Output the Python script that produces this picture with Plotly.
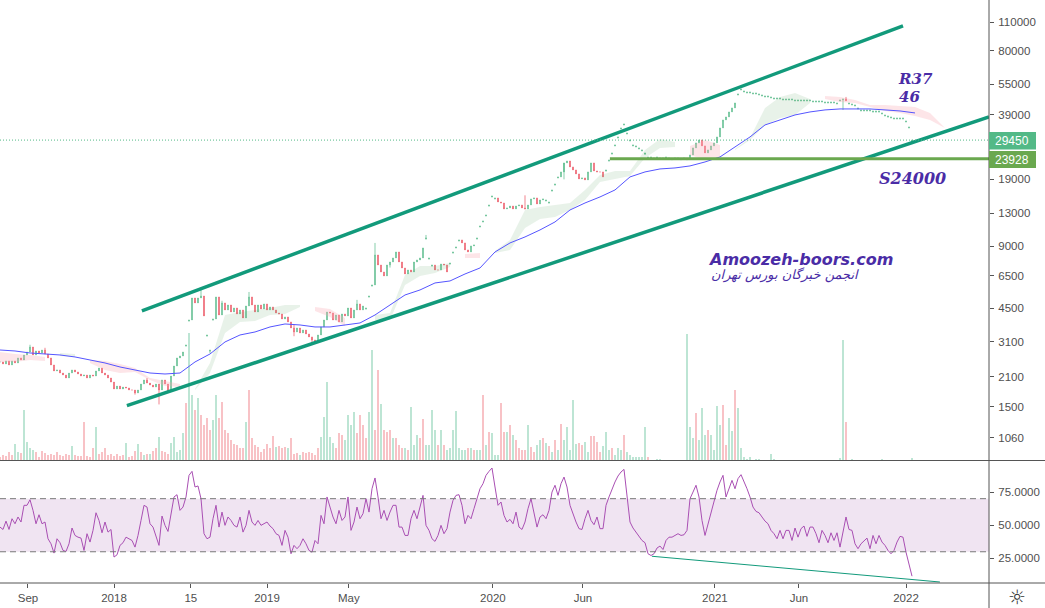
import plotly.graph_objects as go

# ---------- price data, one bar every 3 px of chart width ----------
close = [2476,2421,2504,2394,2504,2448,2589,2532,2677,2768,2927,2677,2799,2737,2830,2707,2589,2394,2239,2264,
2189,2141,2071,2189,2264,2214,2165,2117,2141,2071,2141,2117,2239,2315,2189,2141,2071,1979,1831,1893,
1831,1872,1852,1811,1811,1752,1811,1936,2025,1957,1914,1872,1936,1811,2025,1936,1791,2117,2367,2589,
2647,2768,2993,3956,5057,4783,5057,5171,4137,3346,2830,4000,5114,4183,4783,4423,4677,4325,4523,4230,
4423,4045,4625,5114,4677,4325,4677,4473,4730,4423,4574,4423,4277,4230,4000,4091,3869,3618,3460,3618,
3422,3538,3384,3273,3165,3095,3346,3659,3956,4325,4277,3956,4183,3869,4230,4137,4523,4045,4423,4730,
4423,4625,4523,5171,5847,8172,7308,6759,6465,7308,7557,7903,8450,7557,7068,6610,6912,6759,7557,7729,
7903,8837,9880,7903,7308,6912,6912,7390,7308,6759,7473,8450,8936,9662,9344,8642,8450,9036,9138,9880,
11296,11945,12773,14275,15790,15441,14761,14597,13652,13805,14117,13652,14117,14275,13805,13652,14275,15270,15441,14435,
15100,15270,15100,14761,16880,18049,19521,20641,22820,23330,21820,21100,20186,19090,19305,18880,20641,22820,20873,20641,
20641,19521,21100,23590,25510,27910,30500,33720,35260,31890,29500,27910,27600,26990,26390,25510,24400,24400,24130,24400,
24130,24130,24400,24130,23928,24130,24130,23928,24130,23928,24950,26990,28540,29500,27600,25510,26390,27600,28540,30500,
33720,36870,38130,40310,42160,44570,49290,52130,50970,50400,50400,49840,49840,49290,48740,48200,48200,47660,47130,47130,
47130,46610,46610,46610,46610,46100,46100,46100,46100,46100,46100,45580,45580,45580,45580,45070,45070,45070,45070,44570,
46100,46610,45580,44570,44080,43590,42160,41230,41230,41230,41230,40760,40760,40760,39870,38990,38550,38130,37700,37700,
37700,37700,36460,34100,29450]

high_spikes = {53: 1936, 67: 5592, 83: 5407, 125: 9344, 142: 10216, 282: 47660, 188: 19000, 15: 2900, 10: 3000,
               49: 2070, 74: 4900, 98: 3750, 119: 4950, 175: 15900, 215: 25000}
low_spikes = {53: 1541, 56: 1750, 70: 2737, 98: 3300, 104: 3060, 281: 41230, 8: 2570, 45: 1720, 130: 7100}

# bars that traded as single-price dots
doji_runs = [(62, 63), (69, 71), (122, 124), (142, 144), (150, 153), (159, 165), (182, 186),
             (202, 229), (246, 280), (283, 304)]

# ---------- volume, same bars ----------
volume = [3,5,4,8,5,16,8,7,50,18,12,10,8,3,9,7,5,6,5,8,
5,4,6,5,14,5,4,4,38,4,3,12,33,6,8,12,5,6,4,6,
4,5,17,3,4,9,16,8,5,6,6,9,12,23,9,8,6,17,23,8,
10,27,57,127,65,50,62,45,35,42,30,40,65,42,58,30,27,20,16,15,
12,12,38,70,22,15,13,8,11,16,12,24,13,14,12,13,12,22,6,7,
5,8,7,8,7,5,12,23,43,78,23,17,12,27,25,20,45,35,48,27,
45,35,22,48,110,30,90,56,30,28,30,22,22,15,12,12,10,53,15,25,
22,41,15,15,50,30,15,30,15,10,12,30,49,12,10,10,12,12,10,10,
10,65,15,28,27,5,5,57,28,28,35,25,20,12,10,10,35,13,8,15,
20,22,17,14,8,20,10,36,20,33,10,60,16,17,15,18,8,24,24,18,
8,14,28,10,12,5,12,10,25,8,5,3,3,3,3,33,3,0,0,1,
1,0,0,0,0,0,0,0,0,126,33,22,47,20,52,25,30,25,10,54,
35,55,15,42,29,70,52,12,3,1,3,0,1,1,0,0,0,6,1,0,
0,0,0,0,0,0,0,0,0,0,0,0,0,0,0,0,0,0,0,0,
2,120,38,0,1,0,0,0,0,0,0,0,0,0,1,0,0,0,0,0,
0,0,0,0,2]
# bars whose volume column is green; all others are pink
volume_up_runs = [(5,6),(8,11),(24,24),(32,32),(42,42),(46,46),(48,48),(50,50),(53,53),(57,61),(63,64),(66,66),(71,72),
                  (82,82),(92,92),(96,96),(100,100),(107,111),(115,118),(123,124),(127,127),(131,131),(135,135),(137,139),
                  (142,145),(147,147),(149,155),(157,157),(159,160),(162,162),(164,166),(169,169),(171,171),(176,176),
                  (179,180),(182,182),(184,184),(186,186),(188,192),(195,196),(201,203),(205,207),(209,215),(217,231),
                  (233,235),(237,240),(243,244),(246,281),(283,304)]

# ---------- moving average, one value every 5 bars ----------
ma = [2830,2799,2737,2707,2677,2618,2532,2448,2341,2264,2189,2165,2189,2476,2707,3095,3346,3460,3659,3783,
3741,3659,3659,3741,3826,4183,4677,5229,5530,5979,6114,6610,7068,8450,9344,9991,10803,11812,13500,14597,
15614,16880,19521,20641,21340,21580,22070,23070,24400,27290,30500,34870,36870,38990,40310,41230,41690,41690,41690,41230,
40760,39870]

# ---------- cloud, one value every 5 bars ----------
N = None
red_upper = [2768,2707,2677,2618,N,N,2532,2504,2421,2315,2071,2002,1936,N,N,N,N,N,N,N,N,4574,4473,4045,N,N,N,N,N,N,N,8264,8357,
             N,N,N,N,N,N,N,N,N,N,N,N,N,27600,29500,27910,N,N,N,N,N,N,48200,47660,46100,43590,43590,43110,42630,39870,33720]
red_lower = [2476,2476,2532,2504,N,N,2448,2264,2189,2214,2025,1893,1872,N,N,N,N,N,N,N,N,4374,4091,3700,N,N,N,N,N,N,N,7903,7903,
             N,N,N,N,N,N,N,N,N,N,N,N,N,24950,23590,24400,N,N,N,N,N,N,46610,45070,44570,42630,40760,39870,38550,36870,33720]
green_upper = [N,N,N,N,2737,2707,N,N,N,N,N,N,N,1831,2448,4183,4325,4423,4523,4677,4677,N,N,N,N,4183,4277,6537,7227,7227,7473,N,N,
               8545,9662,13500,13960,14275,14597,16880,19962,20873,20873,26390,29830,28860,N,N,N,26690,30160,42160,47660,49840,46610,
               N,N,N,N,N,N,N,N,N]
green_lower = [N,N,N,N,2647,2618,N,N,N,N,N,N,N,1811,2189,3422,3869,3912,4183,4230,4574,N,N,N,N,3956,3956,5847,6465,6684,7147,N,N,
               8357,8642,11047,12215,12491,13500,15100,18457,19090,19740,24130,26990,27290,N,N,N,26390,29500,34870,37700,38990,44570,
               N,N,N,N,N,N,N,N,N]

# ---------- RSI, same bars as price ----------
rsi = [48.6,46.8,53.1,46.8,54.9,51.1,56.2,52.4,65,65,69.2,61.2,51.1,57.9,51.1,52.4,39.8,36,29,39.8,36.8,31,30.2,36,47.9,42.3,41,40.3,31,43.6,
37.3,46.1,59.4,53.6,44.3,52.4,44.8,46.8,26,27.7,34.8,36.8,41,39.8,38.5,33.5,42.3,53.6,65,63.7,51.1,48.6,41,34.8,56.9,49.9,45.3,57.4,71.3,73,
61.2,63.7,71.3,87.6,90.6,78.8,79.6,70,43.6,39.8,41,54.9,65,48.6,59.9,49.9,56.2,53.6,49.9,48.6,56.2,44.8,49.9,61.2,52.4,49.9,53.6,49.9,51.1,52.4,
49.4,47.4,43.6,42.3,34.8,46.1,41,28.5,34.8,32.3,34.8,39.8,36,31,29.7,38.5,36,57.4,51.1,71.3,63.7,56.2,51.1,61.2,53.6,56.2,71.3,46.1,52.4,63.7,
54.9,58.7,70,59.9,77.5,85.6,71.3,54.9,61.2,53.6,59.9,65,65,48.6,48.6,42.3,42.3,54.9,61.2,54.9,63.7,72.5,49.9,46.1,39.8,37.8,42.3,49.9,43.6,47.4,
59.9,68.7,72.5,73,65,51.1,57.4,54.9,62.5,70,77.5,81.3,87.6,90.6,93.1,78.8,65,
67.5,57.4,52.4,54.4,51.1,59.9,48.6,46.8,52.4,62.5,70,58.7,48.6,56.2,57.9,54.9,61.2,75,80.1,72.5,81.3,86.3,78.8,65,57.9,52.4,47.4,46.8,54.9,61.2,
53.6,50.4,56.2,47.4,47.4,65,71.3,77.5,82.6,87.1,90.1,92.1,71.3,52.4,47.9,44.8,41,38.5,36.8,28.5,27.2,28.5,32.8,34.3,31.7,38.5,41,41,42.3,43.6,
42.3,42.8,46.1,70,75,80.1,71.3,53.6,42.3,51.1,59.9,68.7,76.3,82.6,87.6,71.3,77.5,83.8,77.5,85.1,88.1,83.1,77.5,71.3,63.7,60.4,59.4,56.2,53.1,51.1,
46.1,43.6,39.8,46.1,39.8,46.1,46.1,38.5,47.9,41,47.4,49.4,41.6,48.6,48.6,43.6,36.8,46.1,42.3,36.8,44.3,38.5,44.3,33.5,44.8,56.2,46.8,46.1,36,32.3,
36,38.5,40.3,32.3,42.3,36,42.3,37.3,34.8,31,28.5,31,37.3,41.6,41,29.7,20.9,11.6]

# ---------- axis labels ----------
price_ticks = [110000,80000,55000,39000,19000,13000,9000,6500,4500,3100,2100,1500,1060]
rsi_ticks = [75,50,25]
rsi_tick_labels = ["75.0000","50.0000","25.0000"]
time_tick_bars = [9.33,38,63.6,89,116.3,164.3,194.3,238.3,266.3,302]
time_tick_labels = ["Sep","2018","15","2019","May","2020","Jun","2021","Jun","2022"]
last_price = 29450
support_price = 23928

# ---------- drawn lines: [start bar, end bar], [start value, end value] ----------
upper_channel = ([47.3, 301], [4374, 105250])
lower_channel = ([42.3, 329.67], [1521, 38130])
support_line = ([203.3, 329.67], [support_price, support_price])
last_line = ([0, 329.67], [last_price, last_price])
rsi_trend = ([217.3, 313.3], [26.6, 7.2])

# ---------- styles ----------
W, H = 1045, 608
PLOT_R, PLOT_B, SPLIT = 989, 583, 460
TEAL = "#129a7b"
INK = "#4f4f4f"
UP, DOWN = "#53b987", "#eb4d5c"
TEXTCOL = "#4a2ca6"
px = lambda v: v / PLOT_R
py = lambda v: 1 - v / PLOT_B

bars = list(range(len(close)))
opens = [close[0]] + close[:-1]
highs, lows = [], []
dojis = set()
for a, b in doji_runs:
    dojis.update(range(a, b + 1))
for i in bars:
    if i in dojis:
        opens[i] = close[i] * 0.987
    highs.append(high_spikes.get(i, max(opens[i], close[i])))
    lows.append(low_spikes.get(i, min(opens[i], close[i])))
vol_up = set()
for a, b in volume_up_runs:
    vol_up.update(range(a, b + 1))
vol_colors = ["#bde5d4" if i in vol_up else "#f8c2c6" for i in bars]

fig = go.Figure()
fig.add_trace(go.Bar(x=bars, y=volume, marker_color=vol_colors, marker_line_width=0, width=0.72,
                     yaxis="y", xaxis="x", hoverinfo="skip", showlegend=False))


def add_cloud(upper, lower, color):
    run = []
    for k in range(len(upper) + 1):
        if k < len(upper) and upper[k] is not None:
            run.append(k)
        elif run:
            xs = [j * 5 for j in run] + [j * 5 for j in reversed(run)]
            ys = [upper[j] for j in run] + [lower[j] for j in reversed(run)]
            fig.add_trace(go.Scatter(x=xs, y=ys, mode="lines", line_width=0, fill="toself", fillcolor=color,
                                     yaxis="y3", hoverinfo="skip", showlegend=False))
            run = []


add_cloud(red_upper, red_lower, "rgba(248,170,178,0.3)")
add_cloud(green_upper, green_lower, "rgba(100,170,110,0.15)")

fig.add_trace(go.Scatter(x=[i * 5 for i in range(len(ma))], y=ma, mode="lines", line=dict(color="#5555ff", width=1),
                         yaxis="y3", hoverinfo="skip", showlegend=False))
fig.add_trace(go.Candlestick(x=bars, open=opens, high=highs, low=lows, close=close, yaxis="y3",
                             increasing=dict(line=dict(color=UP, width=0.7), fillcolor=UP),
                             decreasing=dict(line=dict(color=DOWN, width=0.7), fillcolor=DOWN),
                             whiskerwidth=0, hoverinfo="skip", showlegend=False))
for (xs, ys) in (upper_channel, lower_channel):
    fig.add_trace(go.Scatter(x=xs, y=ys, mode="lines", line=dict(color=TEAL, width=3.5), yaxis="y3",
                             hoverinfo="skip", showlegend=False))
fig.add_trace(go.Scatter(x=support_line[0], y=support_line[1], mode="lines", line=dict(color="#6aa84f", width=3),
                         yaxis="y3", hoverinfo="skip", showlegend=False))
fig.add_trace(go.Scatter(x=last_line[0], y=last_line[1], mode="lines", line=dict(color=UP, width=1, dash="1px 2px"),
                         yaxis="y3", hoverinfo="skip", showlegend=False))

# RSI pane
fig.add_trace(go.Scatter(x=bars[:len(rsi)], y=rsi, mode="lines", line=dict(color="#a94fb3", width=1), yaxis="y2",
                         hoverinfo="skip", showlegend=False))
fig.add_trace(go.Scatter(x=rsi_trend[0], y=rsi_trend[1], mode="lines", line=dict(color=TEAL, width=1), yaxis="y2",
                         hoverinfo="skip", showlegend=False))

shapes = [
    dict(type="rect", xref="paper", yref="y2", x0=0, x1=1, y0=30, y1=70, fillcolor="#f0e4f2", line_width=0, layer="below"),
    dict(type="line", xref="paper", yref="y2", x0=0, x1=1, y0=70, y1=70, line=dict(color="#787878", width=1, dash="6px 4px")),
    dict(type="line", xref="paper", yref="y2", x0=0, x1=1, y0=30, y1=30, line=dict(color="#787878", width=1, dash="6px 4px")),
    dict(type="line", xref="paper", yref="paper", x0=0, x1=px(W), y0=py(SPLIT + .5), y1=py(SPLIT + .5), line=dict(color="#555555", width=1)),
    dict(type="line", xref="paper", yref="paper", x0=0, x1=px(W), y0=py(PLOT_B), y1=py(PLOT_B), line=dict(color="#555555", width=1)),
    dict(type="line", xref="paper", yref="paper", x0=1, x1=1, y0=py(H), y1=1, line=dict(color="#555555", width=1)),
    dict(type="rect", xref="paper", yref="paper", x0=1, x1=px(1036), y0=py(132), y1=py(149.5), fillcolor=UP, line_width=0),
    dict(type="rect", xref="paper", yref="paper", x0=1, x1=px(1036), y0=py(151), y1=py(168), fillcolor="#6aa84f", line_width=0),
]


def note(text, x, y, size, color=TEXTCOL, family="DejaVu Sans", anchor="center"):
    return dict(text=text, xref="paper", yref="paper", x=px(x), y=py(y), showarrow=False, xanchor=anchor,
                yanchor="middle", font=dict(size=size, color=color, family=family))


annotations = [
    note("<b><i>R37</i></b>", 915, 79, 15, family="DejaVu Serif"),
    note("<b><i>46</i></b>", 909, 97, 15, family="DejaVu Serif"),
    note("<b><i>S24000</i></b>", 912, 178, 16, family="DejaVu Serif"),
    note("<b><i>Amoozeh-boors.com</i></b>", 800, 259, 16),
    note("<i>انجمن خبرگان بورس تهران</i>", 785, 275, 13),
    note(f"{last_price}", 1012, 141, 12, color="white", family="Liberation Sans"),
    note(f"{support_price}", 1012, 159.5, 12, color="white", family="Liberation Sans"),
    note("☼", 1017, 597, 20, color="#333333"),
]

axis_font = dict(size=11.5, color=INK, family="Liberation Sans")
fig.update_layout(
    width=W, height=H, autosize=False,
    margin=dict(l=0, r=W - PLOT_R, t=0, b=H - PLOT_B),
    paper_bgcolor="white", plot_bgcolor="white",
    showlegend=False, bargap=0, boxgap=0.75, shapes=shapes, annotations=annotations,
    xaxis=dict(domain=[0, 1], range=[0, PLOT_R / 3], anchor="y2", showgrid=False, zeroline=False, showline=False,
               rangeslider=dict(visible=False), tickmode="array", tickvals=time_tick_bars, ticktext=time_tick_labels,
               ticks="outside", ticklen=4, tickcolor="#555555", tickfont=axis_font, fixedrange=True),
    yaxis=dict(domain=[1 - SPLIT / PLOT_B, 1], range=[0, SPLIT], visible=False, fixedrange=True),
    yaxis3=dict(overlaying="y", side="right", anchor="x", type="log", range=[2.9186, 5.148], showgrid=False,
                zeroline=False, showline=False, tickmode="array", tickvals=price_ticks,
                ticktext=[str(t) for t in price_ticks], ticks="outside", ticklen=4, tickcolor="#555555",
                tickfont=axis_font, fixedrange=True, ticklabelstandoff=2),
    yaxis2=dict(domain=[0, 1 - (SPLIT + 1) / PLOT_B], range=[6.45, 98.4], side="right", anchor="x", showgrid=False,
                zeroline=False, showline=False, tickmode="array", tickvals=rsi_ticks, ticktext=rsi_tick_labels,
                ticks="outside", ticklen=4, tickcolor="#555555", tickfont=axis_font, fixedrange=True, ticklabelstandoff=2),
)
fig.write_html("out.html", config=dict(displayModeBar=False),
               post_script="document.body.style.margin='0';")
